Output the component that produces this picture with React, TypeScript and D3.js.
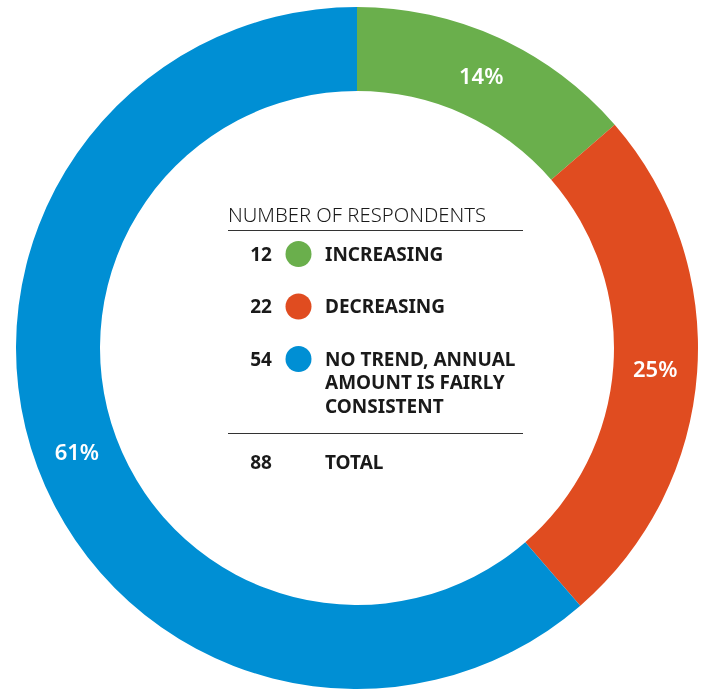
import React, { useRef, useEffect } from "react";
import * as d3 from "d3";

const categories = ["INCREASING", "DECREASING", "NO TREND, ANNUAL AMOUNT IS FAIRLY CONSISTENT"];
const labelLines = [["INCREASING"], ["DECREASING"], ["NO TREND, ANNUAL", "AMOUNT IS FAIRLY", "CONSISTENT"]];
const counts = [12, 22, 54];
const percents = ["14%", "25%", "61%"];
const colors = ["#6aaf4c", "#e04c20", "#008fd4"];
const total = 88;

const App = () => {
  const node: any = useRef();

  useEffect(() => {
    const width = 701,
      height = 690;
    const cx = 357,
      cy = 348,
      outer = 341,
      inner = 257;
    const font = "'Noto Sans', 'Open Sans', sans-serif";

    const svg = d3.select(node.current).attr("width", width).attr("height", height);
    svg.selectAll("*").remove();

    const g = svg.append("g").attr("transform", `translate(${cx},${cy})`);

    const pie = d3.pie<number>().sort(null);
    const arcs = pie(counts);
    const arc: any = d3.arc().innerRadius(inner).outerRadius(outer);

    // ring
    g.selectAll("path")
      .data(arcs)
      .enter()
      .append("path")
      .attr("d", arc)
      .attr("fill", (_, i) => colors[i]);

    // percent labels
    g.selectAll("text.pct")
      .data(arcs)
      .enter()
      .append("text")
      .attr("class", "pct")
      .attr("transform", d => `translate(${arc.centroid(d)})`)
      .attr("text-anchor", "middle")
      .attr("dy", "0.36em")
      .attr("fill", "white")
      .attr("font-family", font)
      .attr("font-weight", 600)
      .attr("font-size", 22)
      .text((_, i) => percents[i]);

    // legend
    const lg = svg.append("g").attr("font-family", font).attr("fill", "#1a1a1a");
    const lx = 228,
      lw = 295;
    lg.append("text")
      .attr("x", lx)
      .attr("y", 222)
      .attr("font-size", 20)
      .attr("font-weight", 300)
      .attr("textLength", 258)
      .attr("lengthAdjust", "spacingAndGlyphs")
      .text("NUMBER OF RESPONDENTS");
    lg.append("line")
      .attr("x1", lx)
      .attr("x2", lx + lw)
      .attr("y1", 230.5)
      .attr("y2", 230.5)
      .attr("stroke", "#333")
      .attr("stroke-width", 1);

    const rowY = d3.scalePoint<string>().domain(categories).range([254, 359]);
    const rows = lg
      .selectAll("g.row")
      .data(categories)
      .enter()
      .append("g")
      .attr("class", "row")
      .attr("transform", d => `translate(0,${rowY(d)})`);
    rows.append("text")
      .attr("x", 272)
      .attr("dy", "0.36em")
      .attr("text-anchor", "end")
      .attr("font-size", 19)
      .attr("font-weight", 700)
      .text((_, i) => counts[i]);
    rows.append("circle")
      .attr("cx", 298.5)
      .attr("r", 13)
      .attr("fill", (_, i) => colors[i]);
    rows.append("text")
      .attr("font-size", 19)
      .attr("font-weight", 700)
      .each(function (_, i) {
        d3.select(this)
          .selectAll("tspan")
          .data(labelLines[i])
          .enter()
          .append("tspan")
          .attr("x", 325)
          .attr("y", (_, j) => j * 23.5)
          .attr("dy", "0.36em")
          .text(t => t);
      });

    lg.append("line")
      .attr("x1", lx)
      .attr("x2", lx + lw)
      .attr("y1", 433.5)
      .attr("y2", 433.5)
      .attr("stroke", "#333")
      .attr("stroke-width", 1);
    lg.append("text")
      .attr("x", 272)
      .attr("y", 462)
      .attr("dy", "0.36em")
      .attr("text-anchor", "end")
      .attr("font-size", 19)
      .attr("font-weight", 700)
      .text(total);
    lg.append("text")
      .attr("x", 325)
      .attr("y", 462)
      .attr("dy", "0.36em")
      .attr("font-size", 19)
      .attr("font-weight", 700)
      .text("TOTAL");
  }, []);

  return (
    <div style={{ position: "fixed", left: 0, top: 0, width: 701, height: 690, overflow: "hidden" }}>
      <svg ref={node} style={{ display: "block" }}></svg>
    </div>
  );
};

export default App;
